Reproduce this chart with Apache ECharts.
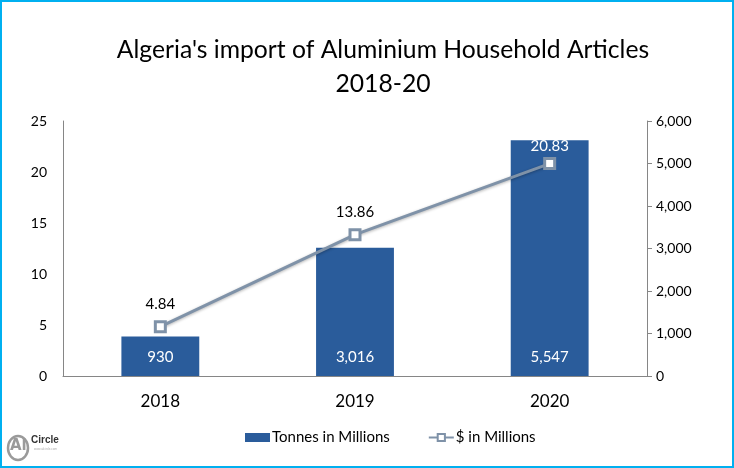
<!DOCTYPE html>
<html><head><meta charset="utf-8">
<script src="https://cdn.jsdelivr.net/npm/echarts@6/dist/echarts.min.js"></script>
<style>html,body{margin:0;padding:0;background:#fff}#c{width:734px;height:468px;box-sizing:border-box;border:2px solid #00B0F0}</style>
</head><body><div id="c"></div>
<script>
var categories = ['2018', '2019', '2020'];
var tonnes = [930, 3016, 5547];
var dollars = [4.84, 13.86, 20.83];
var leftTicks = [0, 5, 10, 15, 20, 25];
var rightTicks = [0, 1000, 2000, 3000, 4000, 5000, 6000];

var chart = echarts.init(document.getElementById('c'));
var font = 'Lato, "Open Sans", sans-serif';
chart.setOption({
  animation: false,
  textStyle: {fontFamily: font},
  title: {
    text: "Algeria's import of Aluminium Household Articles\n2018-20",
    left: 376, top: 26, textAlign: 'center',
    textStyle: {fontFamily: font, fontSize: 24.7, fontWeight: 'normal', color: '#000', lineHeight: 34}
  },
  grid: {left: 61, right: 85, top: 119, bottom: 90},
  legend: {
    bottom: 16, left: 238, itemGap: 38,
    textStyle: {fontFamily: font, fontSize: 15, color: '#000', padding: [0, 0, 0, -3]},
    data: [
      {name: 'Tonnes in Millions', icon: 'rect', itemStyle: {color: '#2A5C9B'}},
      {name: '$ in Millions'}
    ],
    itemWidth: 25, itemHeight: 9
  },
  xAxis: {
    type: 'category', data: categories,
    axisLine: {lineStyle: {color: '#868686', width: 1}},
    axisTick: {show: false},
    axisLabel: {color: '#000', fontSize: 17, margin: 17, fontFamily: font}
  },
  yAxis: [
    {type: 'value', min: 0, max: 25, interval: 5, position: 'left',
     axisLine: {show: true, lineStyle: {color: '#868686'}},
     axisTick: {show: false}, splitLine: {show: false},
     axisLabel: {color: '#000', fontSize: 14, margin: 16, fontFamily: font,
       formatter: function(v){ return leftTicks.indexOf(v) >= 0 ? String(v) : ''; }}},
    {type: 'value', min: 0, max: 6000, interval: 1000, position: 'right',
     axisLine: {show: true, lineStyle: {color: '#868686'}},
     axisTick: {show: true, length: 5, lineStyle: {color: '#868686'}}, splitLine: {show: false},
     axisLabel: {color: '#000', fontSize: 14, margin: 9, fontFamily: font,
       formatter: function(v){ return rightTicks.indexOf(v) >= 0 ? v.toLocaleString('en-US') : ''; }}}
  ],
  series: [
    {name: 'Tonnes in Millions', type: 'bar', yAxisIndex: 1, data: tonnes, barWidth: '40%',
     itemStyle: {color: '#2A5C9B'},
     label: {show: true, position: 'insideBottom', distance: 11, color: '#fff', fontSize: 15, fontFamily: font,
       formatter: function(p){ return p.value.toLocaleString('en-US'); }}},
    {name: '$ in Millions', type: 'line', yAxisIndex: 0, z: 5,
     data: dollars.map(function(v, i){ return i === 2 ? {value: v, label: {color: '#fff', distance: 3}} : v; }),
     symbol: 'rect', symbolSize: 10,
     lineStyle: {color: '#7F92A8', width: 3, shadowColor: 'rgba(0,0,0,0.3)', shadowBlur: 3, shadowOffsetY: 1},
     itemStyle: {color: '#fff', borderColor: '#7F92A8', borderWidth: 3},
     label: {show: true, position: 'top', distance: 8, color: '#000', fontSize: 15, fontFamily: font,
       formatter: function(p){ return p.value.toFixed(2); }}}
  ],
  graphic: [
    {type: 'ellipse', shape: {cx: 16, cy: 446, rx: 10, ry: 12}, style: {fill: 'none', stroke: '#9a9a9a', lineWidth: 2.5}},
    {type: 'text', left: 8, top: 437, style: {text: 'Al', fill: '#9a9a9a', font: 'bold 15px "DejaVu Sans", sans-serif'}},
    {type: 'text', left: 29, top: 433, style: {text: 'Circle', fill: '#333', font: 'bold 10px "Liberation Sans Narrow", sans-serif'}},
    {type: 'text', left: 32, top: 446, style: {text: 'www.alcircle.com', fill: '#aaa', font: '3px sans-serif'}}
  ]
});
</script></body></html>
